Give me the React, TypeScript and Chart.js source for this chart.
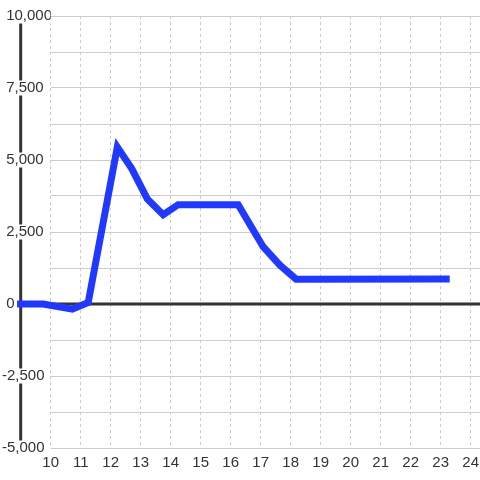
import React, { useEffect, useRef } from "react";
import { Chart, registerables } from "chart.js";

Chart.register(...registerables);

const xValues: number[] = [8.88, 9.75, 10.72, 11.25, 12.22, 12.7, 13.22, 13.75, 14.25, 16.25, 17.08, 17.64, 18.18, 23.3];
const yValues: number[] = [0, 0, -180, 50, 5450, 4700, 3650, 3100, 3450, 3450, 1990, 1350, 860, 870];

const xMin = 10;
const xMax = 24.31;
const yMin = -5000;
const yMax = 10000;
const yStep = 1250;
const yLabelStep = 2500;
const axisAtX = 9;

const FONT = "'Liberation Sans', Arial, sans-serif";
const TEXT = "#333";
const GRID = "#cccccc";
const DARK = "#333333";
const BLUE = "#2139ff";

export default function App() {
  const ref = useRef<HTMLCanvasElement | null>(null);

  useEffect(() => {
    const canvas = ref.current;
    if (!canvas) return;

    const axisPlugin = {
      id: "axisLines",
      beforeDatasetUpdate(_chart: any, args: any) {
        // draw every point, including the ones left of the x-axis minimum
        if (args && args.meta) args.meta._sorted = false;
      },
      beforeDraw(chart: any) {
        const { ctx, scales } = chart;
        const x = scales.x.getPixelForValue(axisAtX);
        ctx.save();
        ctx.strokeStyle = DARK;
        ctx.lineWidth = 3;
        ctx.beginPath();
        ctx.moveTo(x, scales.y.getPixelForValue(yMax));
        ctx.lineTo(x, scales.y.getPixelForValue(yMin));
        ctx.stroke();
        ctx.restore();
      },
      beforeDatasetsDraw(chart: any) {
        const { ctx, scales, chartArea } = chart;
        const y = scales.y.getPixelForValue(0);
        ctx.save();
        ctx.strokeStyle = DARK;
        ctx.lineWidth = 3;
        ctx.beginPath();
        ctx.moveTo(scales.x.getPixelForValue(axisAtX), y);
        ctx.lineTo(chartArea.right, y);
        ctx.stroke();
        ctx.restore();
      },
    };

    const chart = new Chart(canvas, {
      type: "line",
      data: {
        datasets: [
          {
            data: xValues.map((x, i) => ({ x, y: yValues[i] })),
            borderColor: BLUE,
            borderWidth: 7,
            pointRadius: 0,
            tension: 0,
            fill: false,
            clip: false as any,
          },
        ],
      },
      options: {
        responsive: false,
        animation: false,
        devicePixelRatio: 1,
        layout: { padding: { left: 2, top: 16, right: 0, bottom: 0 } },
        plugins: { legend: { display: false }, tooltip: { enabled: false } },
        scales: {
          x: {
            type: "linear",
            min: xMin,
            max: xMax,
            border: { display: false, dash: [3, 3] },
            grid: { color: GRID, lineWidth: 1, drawTicks: false },
            ticks: {
              stepSize: 1,
              includeBounds: false,
              padding: 6,
              color: TEXT,
              font: { family: FONT, size: 15 },
              maxRotation: 0,
            },
            afterFit: (s: any) => {
              s.height = 32;
              s.paddingLeft = 0;
              s.paddingRight = 0;
            },
          },
          y: {
            type: "linear",
            min: yMin,
            max: yMax,
            border: { display: false },
            grid: { color: GRID, lineWidth: 1, drawTicks: false },
            ticks: {
              stepSize: yStep,
              crossAlign: "far",
              padding: 0,
              color: TEXT,
              font: { family: FONT, size: 15, lineHeight: 1 },
              showLabelBackdrop: true,
              backdropColor: "#ffffff",
              backdropPadding: 0,
              callback: (v: any) => {
                const n = Number(v);
                if (n % yLabelStep !== 0) return "";
                const s = n.toLocaleString("en-US");
                return n < 0 ? s : " " + s;
              },
            } as any,
            afterFit: (s: any) => {
              s.width = 48.7;
              s.paddingTop = 0;
              s.paddingBottom = 0;
            },
          },
        },
      } as any,
      plugins: [axisPlugin],
    });

    return () => chart.destroy();
  }, []);

  return (
    <div style={{ position: "fixed", left: 0, top: 0, width: 480, height: 480, background: "#fff" }}>
      <canvas ref={ref} width={480} height={480} />
    </div>
  );
}
